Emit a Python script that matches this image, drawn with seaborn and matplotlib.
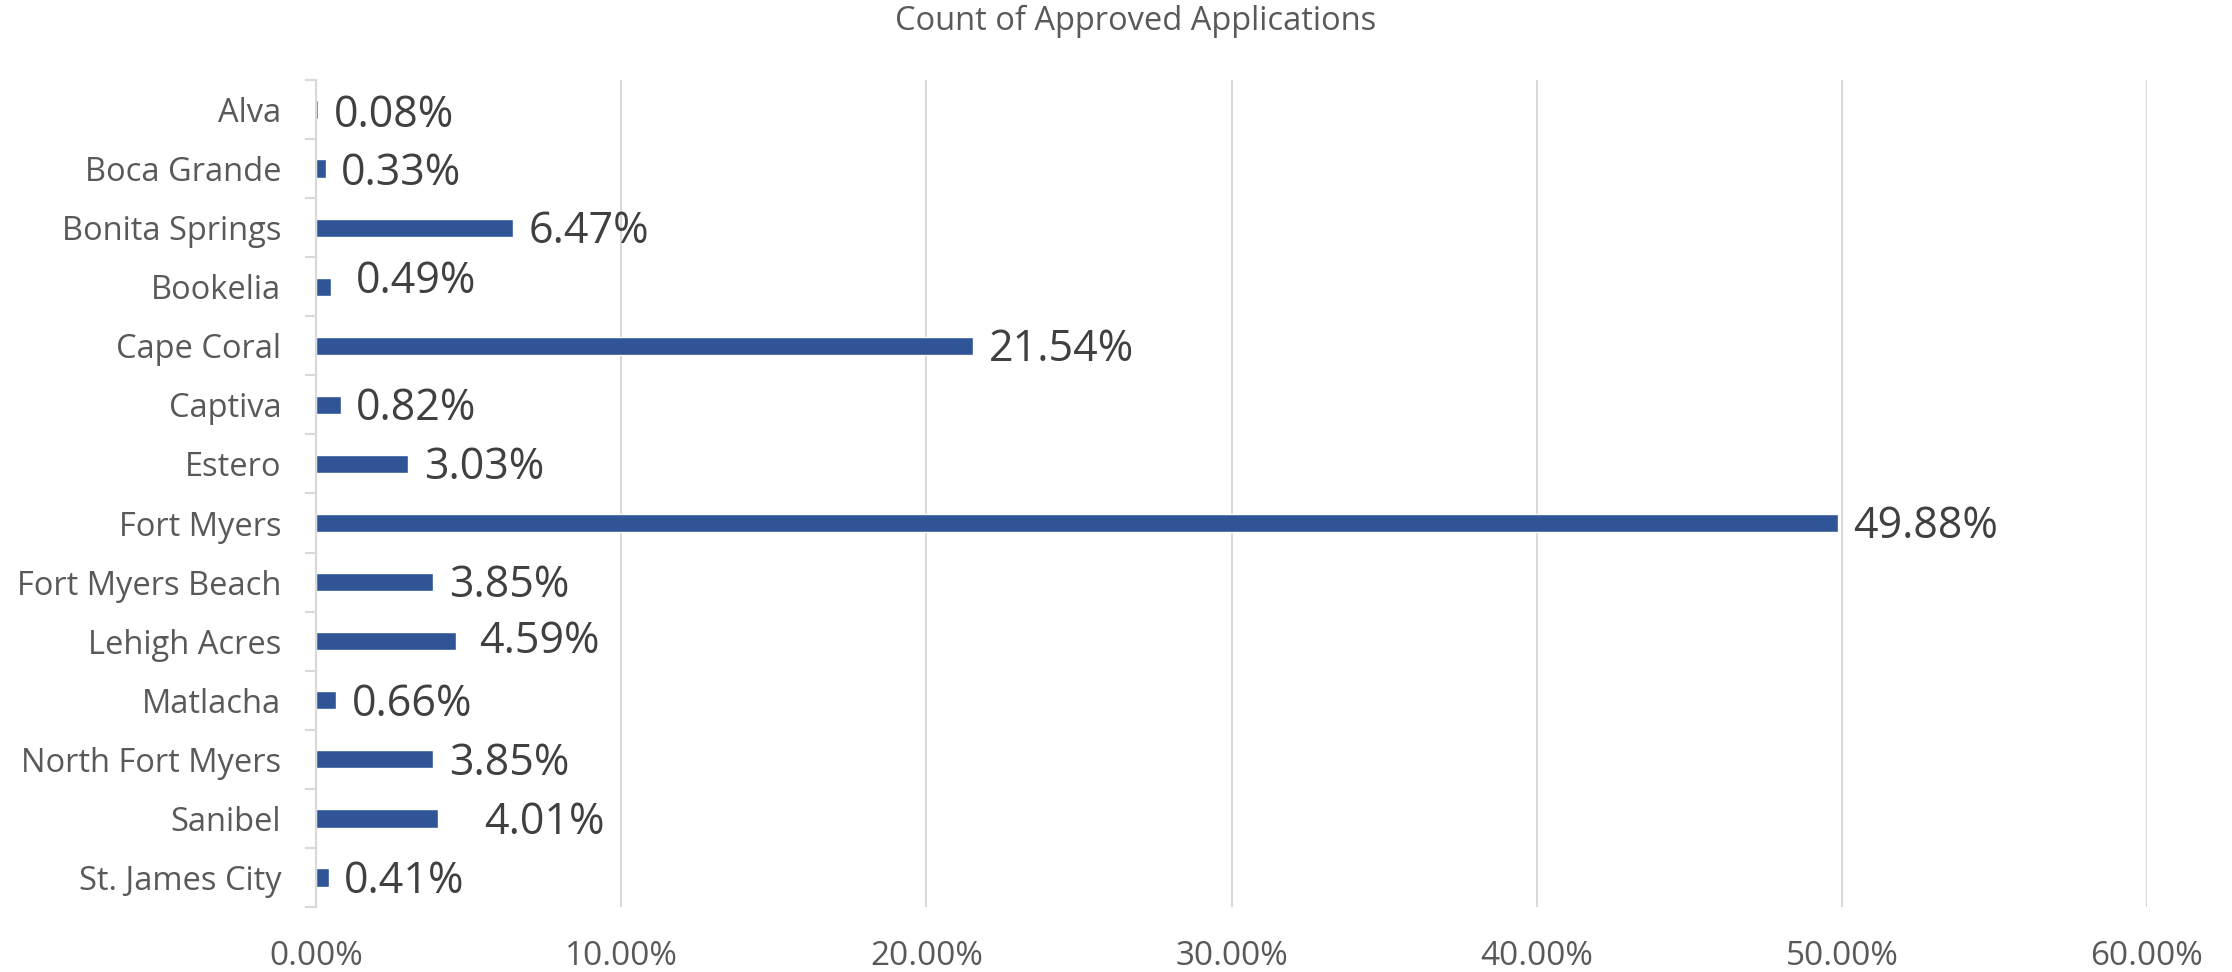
import matplotlib
matplotlib.use("Agg")
import matplotlib.pyplot as plt
import seaborn as sns
import pandas as pd
import numpy as np
from matplotlib.ticker import FuncFormatter, FixedLocator

cities = ["Alva", "Boca Grande", "Bonita Springs", "Bookelia", "Cape Coral", "Captiva",
          "Estero", "Fort Myers", "Fort Myers Beach", "Lehigh Acres", "Matlacha",
          "North Fort Myers", "Sanibel", "St. James City"]
shares = [0.08, 0.33, 6.47, 0.49, 21.54, 0.82, 3.03, 49.88, 3.85, 4.59, 0.66, 3.85, 4.01, 0.41]
# manual label nudges (pixels, positive dy = up) as in the reference
label_dx = [0, 0, 0, 10, 0, 0, 0, 0, 0, 8, 0, 0, 30, 0]
label_dy = [-2, -1, 0, 9, 0, 0, 0, 0, 0, 3, 0, 0, 0, 0]

sns.set_theme(style="white")
plt.rcParams['font.family'] = ['Open Sans', 'DejaVu Sans']

df = pd.DataFrame({"city": cities, "share": shares})

fig = plt.figure(figsize=(22.32, 9.72), dpi=100)
ax = fig.add_axes([316/2232, 1-907/972, (2147-316)/2232, (907-80)/972])

sns.barplot(data=df, y="city", x="share", orient="h", color="#2F5597",
            width=0.31, saturation=1, ax=ax, order=cities)

ax.set_xlim(0, 60)
ax.set_ylim(len(cities)-0.5, -0.5)
ax.xaxis.set_major_locator(FixedLocator(np.arange(0, 61, 10)))
ax.xaxis.set_major_formatter(FuncFormatter(lambda v, p: f"{v:.2f}%"))
ax.grid(axis="x", color="#D9D9D9", linewidth=1.5)
ax.set_axisbelow(True)
for s in ["top", "right", "bottom"]:
    ax.spines[s].set_visible(False)
ax.spines["left"].set_color("#D9D9D9")
ax.spines["left"].set_linewidth(1.5)

ax.set_xlabel("")
ax.set_ylabel("")
ax.tick_params(axis="x", length=0, pad=24, labelsize=24, labelcolor="#595959")
ax.tick_params(axis="y", which="major", length=0, pad=25, labelsize=23.5, labelcolor="#595959")
ax.yaxis.set_minor_locator(FixedLocator(np.arange(-0.5, len(cities), 1)))
ax.tick_params(axis="y", which="minor", length=8, width=1.5, color="#D9D9D9", left=True)

px = 0.72  # points per pixel at dpi 100
for i, v in enumerate(shares):
    ax.annotate(f"{v:.2f}%", xy=(v, i),
                xytext=(11 + label_dx[i] * px, (label_dy[i] - 4) * px),
                textcoords="offset points", va="center", ha="left",
                fontsize=31, color="#404040")

fig.text(0.509, 1-21/972, "Count of Approved Applications", ha="center", va="center",
         fontsize=23.5, color="#595959")

fig.savefig("out.png", dpi=100)
